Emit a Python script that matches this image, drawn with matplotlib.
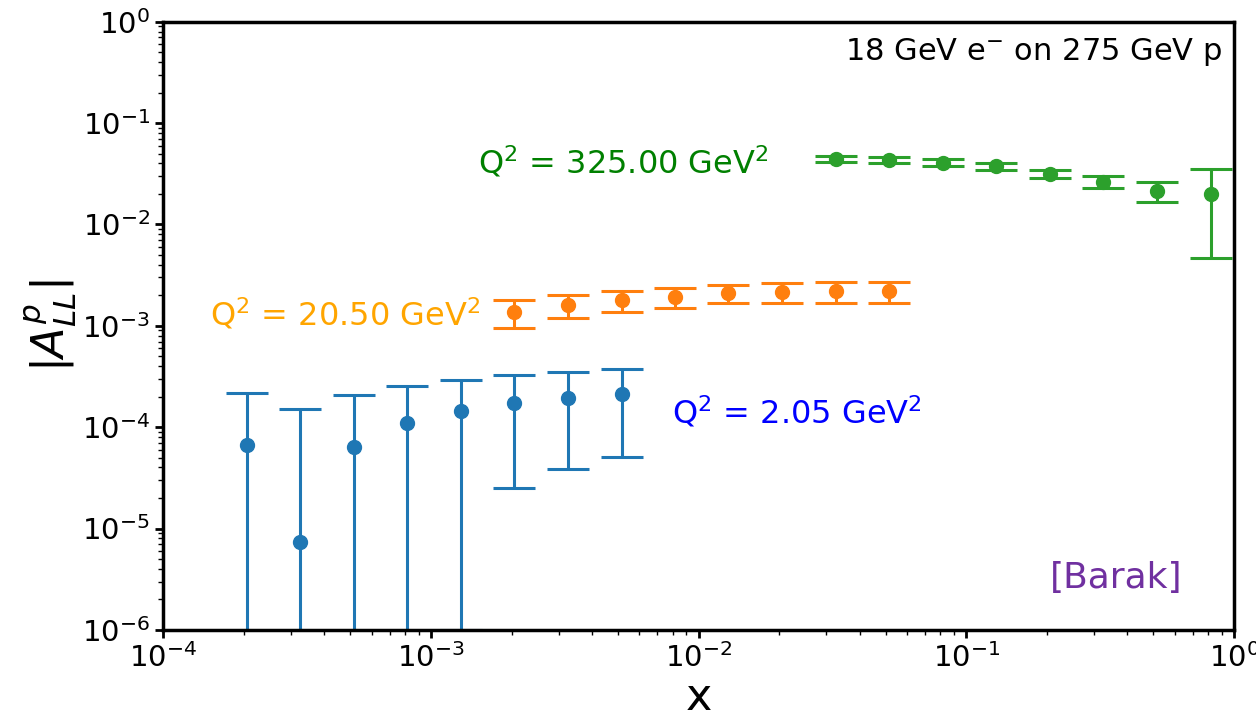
import matplotlib.pyplot as plt

# Q^2 = 2.05 GeV^2
x_low = [2.05e-4, 3.25e-4, 5.15e-4, 8.17e-4, 1.29e-3, 2.05e-3, 3.25e-3, 5.15e-3]
a_low = [6.7e-5, 7.4e-6, 6.4e-5, 1.09e-4, 1.46e-4, 1.75e-4, 1.95e-4, 2.11e-4]
e_low = [1.48e-4, 1.43e-4, 1.42e-4, 1.45e-4, 1.45e-4, 1.50e-4, 1.56e-4, 1.60e-4]

# Q^2 = 20.50 GeV^2
x_mid = [2.05e-3, 3.25e-3, 5.15e-3, 8.17e-3, 1.29e-2, 2.05e-2, 3.25e-2, 5.15e-2]
a_mid = [1.38e-3, 1.61e-3, 1.80e-3, 1.94e-3, 2.10e-3, 2.14e-3, 2.18e-3, 2.18e-3]
e_mid = [4.2e-4, 4.1e-4, 4.2e-4, 4.4e-4, 4.3e-4, 4.8e-4, 5.0e-4, 5.0e-4]

# Q^2 = 325.00 GeV^2
x_high = [3.25e-2, 5.15e-2, 8.17e-2, 0.129, 0.205, 0.325, 0.515, 0.817]
a_high = [0.0444, 0.0434, 0.0408, 0.0373, 0.0318, 0.0264, 0.0216, 0.0199]
e_high = [0.0030, 0.0033, 0.0030, 0.0030, 0.0028, 0.0034, 0.0048, 0.0152]

fig = plt.figure(figsize=(12.56, 7.24), dpi=100)
ax = fig.add_axes([0.13, 0.13, 0.8525, 0.84])

style = dict(fmt='o', markersize=10, elinewidth=2.2, capsize=15, capthick=2.2)
ax.errorbar(x_low, a_low, yerr=e_low, color='C0', **style)
ax.errorbar(x_mid, a_mid, yerr=e_mid, color='C1', **style)
ax.errorbar(x_high, a_high, yerr=e_high, color='C2', **style)

ax.set_xscale('log')
ax.set_yscale('log')
ax.set_xlim(1e-4, 1)
ax.set_ylim(1e-6, 1)

ax.set_xlabel('x', fontsize=32, labelpad=2)
ax.set_ylabel(r'$|A_{LL}^{p}|$', fontsize=32, labelpad=2)
ax.tick_params(which='major', labelsize=21, width=2, length=6)
ax.tick_params(which='minor', width=1, length=3.5)
for s in ax.spines.values():
    s.set_linewidth(2.5)

ax.text(0.989, 0.95, r'18 GeV e$^{-}$ on 275 GeV p', transform=ax.transAxes,
        ha='right', va='center', fontsize=22)
ax.text(0.294, 0.768, r'Q$^2$ = 325.00 GeV$^2$', transform=ax.transAxes,
        ha='left', va='center', fontsize=23, color='green')
ax.text(0.044, 0.518, r'Q$^2$ = 20.50 GeV$^2$', transform=ax.transAxes,
        ha='left', va='center', fontsize=23, color='orange')
ax.text(0.475, 0.357, r'Q$^2$ = 2.05 GeV$^2$', transform=ax.transAxes,
        ha='left', va='center', fontsize=23, color='blue')
ax.text(0.828, 0.0855, '[Barak]', transform=ax.transAxes,
        ha='left', va='center', fontsize=26, color='#7030A0')

fig.savefig('out.png', dpi=100)
